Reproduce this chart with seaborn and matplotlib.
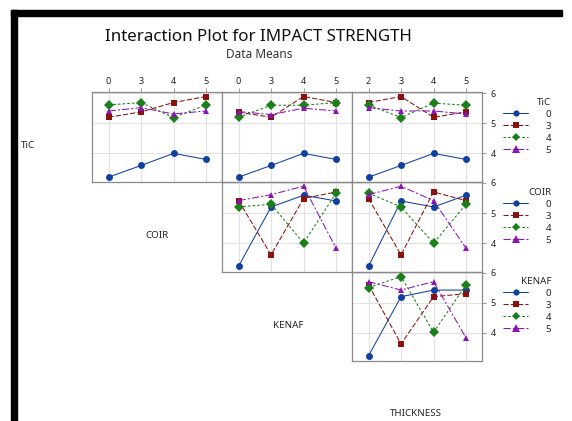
import matplotlib
matplotlib.use('Agg')
import matplotlib.pyplot as plt
from matplotlib.lines import Line2D
from matplotlib.patches import Rectangle
import pandas as pd
import seaborn as sns

# factor levels
tic_levels = ['0', '3', '4', '5']
coir_levels = ['0', '3', '4', '5']
kenaf_levels = ['0', '3', '4', '5']
thick_levels = ['2', '3', '4', '5']

# means, one row per level of the line factor
tic_by_coir = [[3.21, 3.60, 4.00, 3.80],
               [5.20, 5.38, 5.69, 5.89],
               [5.61, 5.69, 5.19, 5.61],
               [5.41, 5.52, 5.31, 5.41]]
tic_by_kenaf = [[3.21, 3.60, 4.00, 3.80],
                [5.37, 5.20, 5.89, 5.69],
                [5.20, 5.60, 5.60, 5.69],
                [5.39, 5.29, 5.50, 5.41]]
tic_by_thick = [[3.21, 3.60, 4.00, 3.80],
                [5.69, 5.89, 5.20, 5.38],
                [5.61, 5.19, 5.67, 5.60],
                [5.52, 5.41, 5.41, 5.31]]
coir_by_kenaf = [[3.23, 5.20, 5.59, 5.40],
                 [5.41, 3.61, 5.48, 5.70],
                 [5.20, 5.29, 4.00, 5.66],
                 [5.41, 5.61, 5.89, 3.83]]
coir_by_thick = [[3.23, 5.40, 5.20, 5.59],
                 [5.48, 3.61, 5.70, 5.41],
                 [5.66, 5.20, 4.00, 5.29],
                 [5.61, 5.89, 5.41, 3.83]]
kenaf_by_thick = [[3.24, 5.20, 5.42, 5.42],
                  [5.59, 3.63, 5.20, 5.30],
                  [5.50, 5.87, 4.02, 5.59],
                  [5.70, 5.42, 5.70, 3.83]]

sns.set_theme(style='white')
plt.rcParams['font.family'] = ['Noto Sans', 'DejaVu Sans']

W, H = 572, 421
fig = plt.figure(figsize=(W / 100, H / 100), dpi=100)

colors = ['#1040a0', '#8b1010', '#1a801a', '#8a14b4']
mk = ['o', 's', 'D', '^']
msz = [4.5, 5, 4, 5.5]
dash_list = ['', (5, 2), (2.5, 2), (7, 2, 2, 2)]

col_x = [92.3, 222.3, 352.3]
row_y = [92.3, 182.0, 271.7]
pw, ph = 130, 89.7


def px_axes(col, row):
    x0 = col_x[col]
    y0 = row_y[row]
    return fig.add_axes([x0 / W, 1 - (y0 + ph) / H, pw / W, ph / H])


def draw_panel(ax, x_levels, line_levels, values, top, right):
    rows = []
    for lv, vals in zip(line_levels, values):
        for i, v in enumerate(vals):
            rows.append({'pos': i, 'mean': v, 'grp': lv})
    df = pd.DataFrame(rows)
    pal = dict(zip(line_levels, colors))
    sns.lineplot(data=df, x='pos', y='mean', hue='grp', style='grp',
                 hue_order=line_levels, style_order=line_levels,
                 palette=pal, markers=dict(zip(line_levels, mk)),
                 dashes=dict(zip(line_levels, dash_list)),
                 linewidth=0.75, markersize=5, markeredgewidth=0,
                 legend=False, ax=ax)
    ax.set_xlim(-0.5, 3.5)
    ax.set_ylim(3.05, 6.03)
    ax.set_xticks(range(4))
    ax.set_xticklabels(x_levels)
    ax.set_yticks([4, 5, 6])
    ax.set_xlabel('')
    ax.set_ylabel('')
    ax.grid(True, color='#e2e2e2', lw=0.8)
    ax.set_axisbelow(True)
    for s in ax.spines.values():
        s.set_color('#8a8a8a')
        s.set_linewidth(0.9)
    ax.tick_params(labelsize=6.5, colors='#222222', length=3, width=0.6,
                   pad=1.5)
    ax.xaxis.tick_top()
    ax.yaxis.tick_right()
    if not top:
        ax.tick_params(axis='x', length=0, labeltop=False)
    if not right:
        ax.tick_params(axis='y', length=0, labelright=False)
    ax.tick_params(axis='x', color='#8a8a8a')
    ax.tick_params(axis='y', color='#8a8a8a', pad=3)


draw_panel(px_axes(0, 0), coir_levels, tic_levels, tic_by_coir, True, False)
draw_panel(px_axes(1, 0), kenaf_levels, tic_levels, tic_by_kenaf, True, False)
draw_panel(px_axes(2, 0), thick_levels, tic_levels, tic_by_thick, True, True)
draw_panel(px_axes(1, 1), kenaf_levels, coir_levels, coir_by_kenaf, False, False)
draw_panel(px_axes(2, 1), thick_levels, coir_levels, coir_by_thick, False, True)
draw_panel(px_axes(2, 2), thick_levels, kenaf_levels, kenaf_by_thick, False, True)

# diagonal factor names
for name, x, y in [('TiC', 28, 145), ('COIR', 157, 235),
                   ('KENAF', 288, 325), ('THICKNESS', 416, 414)]:
    fig.text(x / W, 1 - y / H, name, ha='center', va='center',
             fontsize=7, color='#222222')

# legends
for title, levels, ytop in [('TiC', tic_levels, 94), ('COIR', coir_levels, 184),
                            ('KENAF', kenaf_levels, 273)]:
    handles = []
    for c, m, s, d in zip(colors, mk, msz, dash_list):
        ls = '-' if d == '' else (0, d)
        handles.append(Line2D([], [], color=c, marker=m, markersize=s,
                              markeredgewidth=0, lw=0.75, linestyle=ls))
    fig.legend(handles, levels, title=title, loc='upper left',
               bbox_to_anchor=(499 / W, 1 - ytop / H), frameon=False,
               fontsize=7, title_fontsize=7, handlelength=2.6,
               labelspacing=0.3, handletextpad=1.8, alignment='right',
               borderaxespad=0)

fig.text(258 / W, 1 - 37 / H, 'Interaction Plot for IMPACT STRENGTH',
         ha='center', va='center', fontsize=12.2, color='#111111')
fig.text(259 / W, 1 - 55 / H, 'Data Means', ha='center', va='center',
         fontsize=8.5, color='#333333')

# black frame of the screenshot
fig.add_artist(Rectangle((11 / W, 0), 6 / W, (H - 10) / H,
                         transform=fig.transFigure, color='black'))
fig.add_artist(Rectangle((11 / W, 1 - 15.5 / H), 551 / W, 5.5 / H,
                         transform=fig.transFigure, color='black'))

fig.savefig('out.png', dpi=100)
